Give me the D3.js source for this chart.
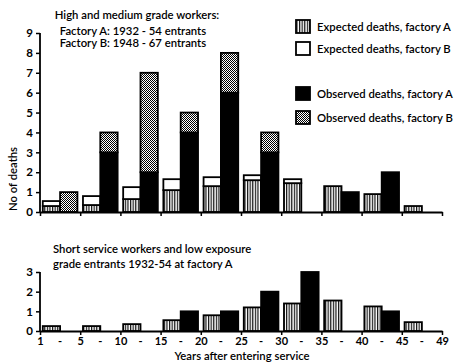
<!DOCTYPE html>
<html>
<head>
<meta charset="utf-8">
<script src="https://cdn.jsdelivr.net/npm/d3@7/dist/d3.min.js"></script>
<style>
  html, body { margin: 0; padding: 0; background: #fff; }
  svg { display: block; }
  text { font-family: "Lato", "DejaVu Sans", sans-serif; fill: #000; }
</style>
</head>
<body>
<svg id="chart" width="455" height="362"></svg>
<script>
// ---- data ----
const groups = ["1-5", "5-10", "10-15", "15-20", "20-25", "25-30", "30-35", "35-40", "40-45", "45-49"];
const tickLabels = ["1", "5", "10", "15", "20", "25", "30", "35", "40", "45", "49"];

// Top panel: high and medium grade workers
const topExpectedA = [0.3, 0.35, 0.65, 1.1, 1.3, 1.6, 1.45, 1.3, 0.9, 0.3];
const topExpectedB = [0.25, 0.45, 0.6, 0.55, 0.45, 0.25, 0.2, 0, 0, 0];
const topObservedA = [0, 3, 2, 4, 6, 3, 0, 1, 2, 0];
const topObservedB = [1, 1, 5, 1, 2, 1, 0, 0, 0, 0];

// Bottom panel: short service workers and low exposure grade entrants
const botExpectedA = [0.25, 0.25, 0.35, 0.55, 0.8, 1.2, 1.4, 1.55, 1.25, 0.45];
const botObservedA = [0, 0, 0, 1, 1, 2, 3, 0, 1, 0];

const topTicks = [0, 1, 2, 3, 4, 5, 6, 7, 8, 9];
const botTicks = [0, 1, 2, 3];

const legendItems = [
  { label: "Expected deaths, factory A", fill: "url(#stripes)" },
  { label: "Expected deaths, factory B", fill: "#fff" },
  { label: "Observed deaths, factory A", fill: "#000" },
  { label: "Observed deaths, factory B", fill: "url(#dots)" }
];

// ---- drawing ----
const FS = "11.3px";
const svg = d3.select("#chart");
const defs = svg.append("defs");

const stripes = defs.append("pattern").attr("id", "stripes")
  .attr("patternUnits", "userSpaceOnUse").attr("width", 2.6).attr("height", 4);
stripes.append("rect").attr("width", 2.6).attr("height", 4).attr("fill", "#fff");
stripes.append("rect").attr("width", 1.2).attr("height", 4).attr("fill", "#111");

const dots = defs.append("pattern").attr("id", "dots")
  .attr("patternUnits", "userSpaceOnUse").attr("width", 2).attr("height", 2);
dots.append("rect").attr("width", 2).attr("height", 2).attr("fill", "#fff");
dots.append("rect").attr("width", 1).attr("height", 1).attr("fill", "#000");
dots.append("rect").attr("x", 1).attr("y", 1).attr("width", 1).attr("height", 1).attr("fill", "#000");

const x = d3.scaleBand().domain(groups).range([40, 442]).paddingInner(0).paddingOuter(0);
const sub = d3.scaleBand().domain(["exp", "obs"]).range([0, x.bandwidth()]).paddingOuter(0.16).paddingInner(0);

const yTop = d3.scaleLinear().domain([0, 9]).range([212, 33]);
const yBot = d3.scaleLinear().domain([0, 3]).range([331, 272]);

const SW = 1.8;

function drawStack(g, gx, kind, segs, y) {
  const total = d3.sum(segs, s => s.v);
  if (total <= 0) return;
  const bx = gx + sub(kind);
  const bw = sub.bandwidth();
  let acc = 0;
  segs.forEach(s => {
    if (s.v <= 0) return;
    g.append("rect")
      .attr("x", bx).attr("width", bw)
      .attr("y", y(acc + s.v)).attr("height", y(acc) - y(acc + s.v))
      .attr("fill", s.fill).attr("stroke", "#000").attr("stroke-width", SW);
    acc += s.v;
  });
}

function drawAxes(y, ticks, showLabels) {
  const ax = svg.append("g").attr("transform", "translate(40,0)")
    .call(d3.axisLeft(y).tickValues(ticks).tickSize(4).tickPadding(3).tickFormat(d3.format("d")));
  ax.select(".domain").attr("stroke-width", 1.8).attr("d", `M0,${y(0)}V${y(ticks[ticks.length - 1])}`);
  ax.selectAll(".tick line").attr("stroke-width", 1.5);
  ax.selectAll(".tick text").style("font-size", "11.5px").style("font-weight", "bold").attr("font-family", "Lato, sans-serif");

  const xl = d3.scaleLinear().domain([0, 10]).range([40, 442]);
  const bx = svg.append("g").attr("transform", `translate(0,${y(0)})`)
    .call(d3.axisBottom(xl).tickValues(d3.range(0, 11)).tickSize(4).tickPadding(2).tickSizeOuter(0)
      .tickFormat(i => showLabels ? tickLabels[i] : ""));
  bx.select(".domain").attr("stroke-width", 1.8);
  bx.selectAll(".tick line").attr("stroke-width", 1.5);
  bx.selectAll(".tick text").style("font-size", "11px").style("font-weight", "bold").attr("dy", "0.72em");
  if (showLabels) {
    svg.append("g").selectAll("text").data(groups).join("text")
      .attr("x", d => x(d) + x.bandwidth() / 2)
      .attr("y", y(0) + 14)
      .attr("text-anchor", "middle")
      .style("font-size", "11px").style("font-weight", "bold")
      .text("-");
  }
}

// Top panel
const gTop = svg.append("g");
groups.forEach((gname, i) => {
  const gx = x(gname);
  drawStack(gTop, gx, "exp", [
    { v: topExpectedA[i], fill: "url(#stripes)" },
    { v: topExpectedB[i], fill: "#fff" }
  ], yTop);
  drawStack(gTop, gx, "obs", [
    { v: topObservedA[i], fill: "#000" },
    { v: topObservedB[i], fill: "url(#dots)" }
  ], yTop);
});
drawAxes(yTop, topTicks, false);

// Bottom panel
const gBot = svg.append("g");
groups.forEach((gname, i) => {
  const gx = x(gname);
  drawStack(gBot, gx, "exp", [{ v: botExpectedA[i], fill: "url(#stripes)" }], yBot);
  drawStack(gBot, gx, "obs", [{ v: botObservedA[i], fill: "#000" }], yBot);
});
drawAxes(yBot, botTicks, true);

// Titles
const tTop = svg.append("text").attr("text-anchor", "middle").style("font-size", FS).style("font-weight", "600");
tTop.append("tspan").attr("x", 137).attr("y", 19).text("High and medium grade workers:");
tTop.append("tspan").attr("x", 133).attr("y", 35).text("Factory A: 1932 - 54 entrants");
tTop.append("tspan").attr("x", 133).attr("y", 47).text("Factory B: 1948 - 67 entrants");

const tBot = svg.append("text").style("font-size", FS).style("font-weight", "600");
tBot.append("tspan").attr("x", 53).attr("y", 253).text("Short service workers and low exposure");
tBot.append("tspan").attr("x", 53).attr("y", 268).text("grade entrants 1932-54 at factory A");

svg.append("text").attr("x", 242).attr("y", 360).attr("text-anchor", "middle")
  .style("font-size", FS).style("font-weight", "600").text("Years after entering service");

svg.append("text").attr("transform", "translate(17,179) rotate(-90)").attr("text-anchor", "middle")
  .style("font-size", FS).style("font-weight", "600").text("No of deaths");

// Legend
const leg = svg.append("g");
const legY = [20, 42, 87, 111];
legendItems.forEach((d, i) => {
  leg.append("rect").attr("x", 296).attr("y", legY[i]).attr("width", 14).attr("height", 13)
    .attr("fill", d.fill).attr("stroke", "#000").attr("stroke-width", SW);
  leg.append("text").attr("x", 317).attr("y", legY[i] + 10.5)
    .style("font-size", FS).style("font-weight", "600").text(d.label);
});
</script>
</body>
</html>
